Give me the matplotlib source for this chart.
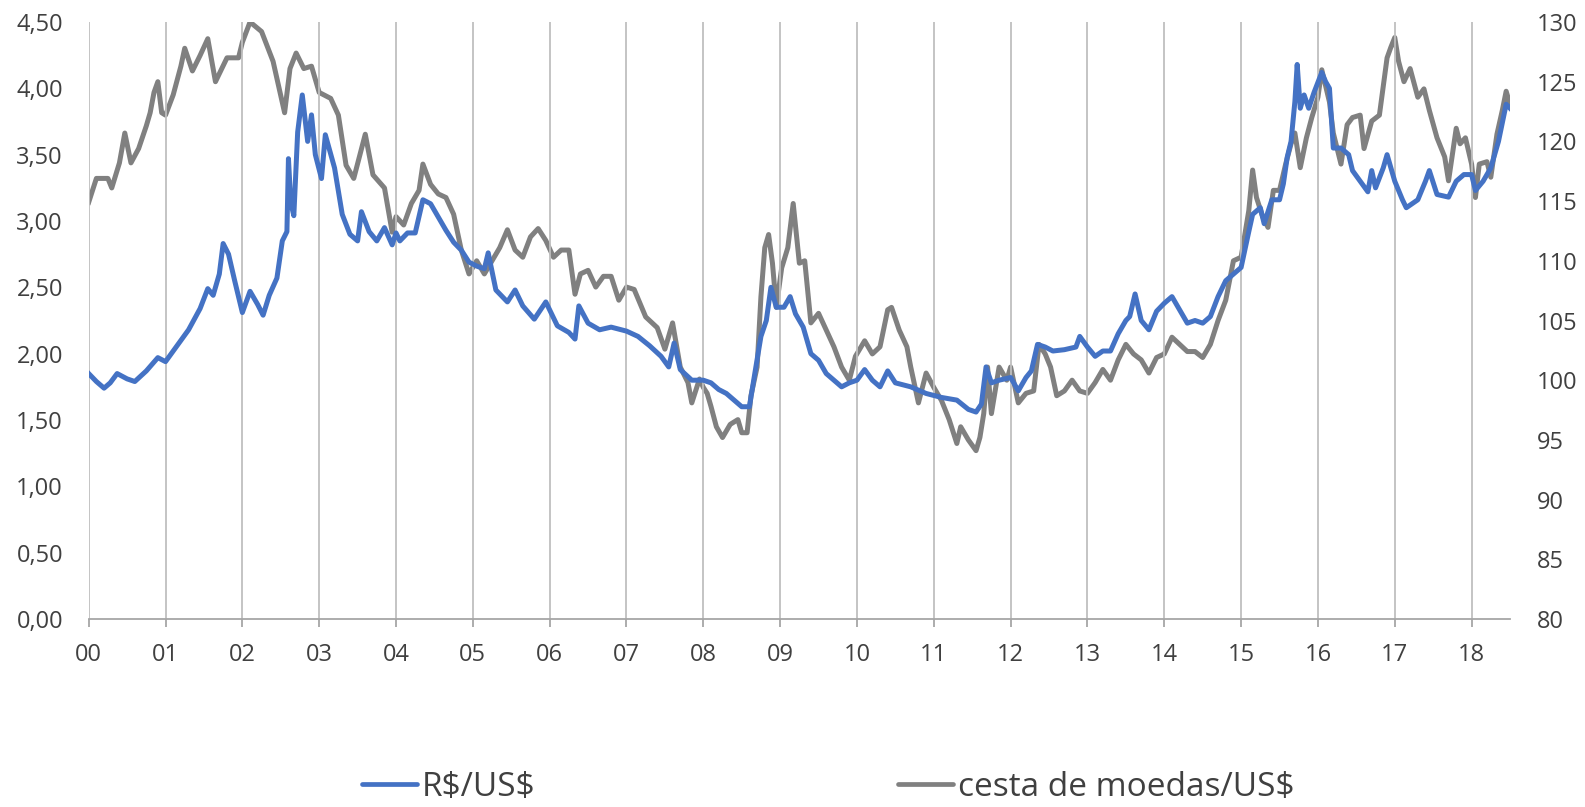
import matplotlib
matplotlib.use("Agg")
import matplotlib.pyplot as plt
from matplotlib.lines import Line2D

# ---- data (time in years since 2000) ----
brl_t = [0.0, 0.1, 0.2, 0.28, 0.37, 0.5, 0.6, 0.75, 0.9, 1.0, 1.15, 1.3, 1.45, 1.55, 1.62, 1.7, 1.75,
         1.82, 1.9, 2.0, 2.1, 2.2, 2.27, 2.35, 2.45, 2.52, 2.58, 2.6, 2.63, 2.67, 2.72, 2.78, 2.85,
         2.9, 2.95, 3.03, 3.08, 3.2, 3.3, 3.4, 3.5, 3.55, 3.65, 3.75, 3.85, 3.95, 4.0, 4.05, 4.15,
         4.25, 4.35, 4.45, 4.55, 4.65, 4.75, 4.85, 4.95, 5.05, 5.15, 5.2, 5.3, 5.45, 5.55, 5.65,
         5.8, 5.95, 6.1, 6.25, 6.33, 6.38, 6.5, 6.65, 6.8, 7.0, 7.15, 7.3, 7.45, 7.55, 7.62, 7.7,
         7.85, 8.0, 8.1, 8.2, 8.3, 8.4, 8.5, 8.6, 8.67, 8.75, 8.82, 8.88, 8.95, 9.05, 9.13, 9.2,
         9.3, 9.4, 9.5, 9.6, 9.7, 9.8, 9.9, 10.0, 10.1, 10.2, 10.3, 10.4, 10.5, 10.7, 10.9, 11.1,
         11.3, 11.45, 11.55, 11.62, 11.68, 11.75, 11.85, 12.0, 12.1, 12.2, 12.27, 12.35, 12.45,
         12.55, 12.7, 12.85, 12.9, 13.0, 13.1, 13.2, 13.3, 13.4, 13.5, 13.55, 13.62, 13.7, 13.8,
         13.9, 14.0, 14.1, 14.2, 14.3, 14.4, 14.5, 14.6, 14.7, 14.8, 14.9, 15.0, 15.1, 15.15,
         15.25, 15.3, 15.4, 15.5, 15.55, 15.6, 15.65, 15.7, 15.73, 15.77, 15.82, 15.88, 15.95,
         16.05, 16.1, 16.15, 16.2, 16.3, 16.4, 16.45, 16.55, 16.65, 16.7, 16.75, 16.85, 16.9,
         17.0, 17.1, 17.15, 17.3, 17.4, 17.45, 17.55, 17.7, 17.8, 17.9, 18.0, 18.05, 18.15,
         18.25, 18.35, 18.45, 18.5]
brl_v = [1.85, 1.79, 1.74, 1.78, 1.85, 1.81, 1.79, 1.87, 1.97, 1.94, 2.06, 2.18, 2.34, 2.49, 2.44,
         2.60, 2.83, 2.75, 2.55, 2.31, 2.47, 2.37, 2.29, 2.44, 2.57, 2.85, 2.92, 3.47, 3.14, 3.04,
         3.67, 3.95, 3.60, 3.80, 3.50, 3.32, 3.65, 3.40, 3.05, 2.90, 2.85, 3.07, 2.92, 2.85, 2.95,
         2.82, 2.91, 2.85, 2.91, 2.91, 3.16, 3.13, 3.03, 2.93, 2.84, 2.78, 2.69, 2.66, 2.64, 2.76,
         2.48, 2.39, 2.48, 2.36, 2.26, 2.39, 2.21, 2.16, 2.11, 2.36, 2.23, 2.18, 2.20, 2.17, 2.13,
         2.06, 1.98, 1.90, 2.08, 1.88, 1.80, 1.80, 1.78, 1.73, 1.70, 1.65, 1.60, 1.60, 1.85, 2.13,
         2.25, 2.50, 2.35, 2.35, 2.43, 2.30, 2.20, 2.00, 1.95, 1.85, 1.80, 1.75, 1.78, 1.80, 1.88,
         1.80, 1.75, 1.87, 1.78, 1.75, 1.70, 1.67, 1.65, 1.58, 1.56, 1.62, 1.90, 1.78, 1.80, 1.82,
         1.72, 1.82, 1.87, 2.07, 2.05, 2.02, 2.03, 2.05, 2.13, 2.05, 1.98, 2.02, 2.02, 2.15, 2.25,
         2.28, 2.45, 2.25, 2.18, 2.32, 2.38, 2.43, 2.33, 2.23, 2.25, 2.23, 2.28, 2.43, 2.55, 2.60,
         2.65, 2.92, 3.05, 3.10, 2.98, 3.16, 3.16, 3.28, 3.48, 3.60, 3.90, 4.18, 3.85, 3.95, 3.85,
         3.97, 4.12, 4.05, 4.00, 3.55, 3.55, 3.50, 3.38, 3.30, 3.22, 3.38, 3.25, 3.40, 3.50, 3.30,
         3.16, 3.10, 3.16, 3.30, 3.38, 3.20, 3.18, 3.30, 3.35, 3.35, 3.23, 3.30, 3.40, 3.60, 3.88,
         3.85]

basket_t = [0.0, 0.1, 0.25, 0.3, 0.4, 0.47, 0.55, 0.65, 0.75, 0.8, 0.85, 0.9, 0.95, 1.0, 1.1, 1.2,
            1.25, 1.35, 1.45, 1.55, 1.65, 1.8, 1.95, 2.0, 2.1, 2.25, 2.4, 2.55, 2.62, 2.7, 2.8,
            2.9, 3.0, 3.15, 3.25, 3.35, 3.45, 3.6, 3.7, 3.85, 3.95, 4.0, 4.1, 4.2, 4.3, 4.35, 4.45,
            4.55, 4.65, 4.75, 4.85, 4.95, 5.05, 5.15, 5.25, 5.35, 5.45, 5.55, 5.65, 5.75, 5.85,
            5.95, 6.05, 6.15, 6.25, 6.33, 6.4, 6.5, 6.6, 6.7, 6.8, 6.9, 7.0, 7.1, 7.25, 7.4, 7.5,
            7.6, 7.7, 7.8, 7.85, 7.95, 8.0, 8.05, 8.1, 8.17, 8.25, 8.35, 8.45, 8.5, 8.57, 8.62,
            8.7, 8.75, 8.8, 8.85, 8.9, 8.95, 9.02, 9.1, 9.17, 9.25, 9.32, 9.4, 9.5, 9.6, 9.7, 9.8,
            9.9, 9.98, 10.1, 10.2, 10.3, 10.4, 10.45, 10.55, 10.65, 10.7, 10.8, 10.9, 11.0, 11.1,
            11.2, 11.3, 11.35, 11.45, 11.55, 11.6, 11.65, 11.7, 11.75, 11.85, 11.95, 12.0, 12.1,
            12.2, 12.3, 12.37, 12.45, 12.52, 12.6, 12.7, 12.8, 12.9, 13.0, 13.1, 13.2, 13.3, 13.4,
            13.5, 13.6, 13.7, 13.8, 13.9, 14.0, 14.1, 14.2, 14.3, 14.4, 14.5, 14.6, 14.7, 14.8,
            14.9, 15.0, 15.1, 15.15, 15.2, 15.28, 15.35, 15.42, 15.5, 15.58, 15.65, 15.7, 15.77,
            15.85, 15.92, 16.0, 16.05, 16.15, 16.2, 16.3, 16.38, 16.45, 16.55, 16.6, 16.7, 16.8,
            16.9, 16.95, 17.0, 17.05, 17.12, 17.2, 17.3, 17.38, 17.45, 17.55, 17.65, 17.7, 17.8,
            17.85, 17.92, 18.0, 18.05, 18.1, 18.2, 18.25, 18.33, 18.4, 18.45, 18.5]
basket_v = [114.9, 116.9, 116.9, 116.1, 118.2, 120.7, 118.2, 119.4, 121.3, 122.4, 124.1, 125.0,
            122.4, 122.2, 123.9, 126.3, 127.8, 125.9, 127.2, 128.6, 125.0, 127.0, 127.0, 128.3,
            130.0, 129.2, 126.7, 122.4, 126.1, 127.4, 126.1, 126.3, 124.1, 123.6, 122.2, 118.0,
            116.9, 120.6, 117.2, 116.1, 112.4, 113.7, 113.0, 114.8, 115.9, 118.1, 116.4, 115.6,
            115.3, 113.9, 110.9, 108.9, 110.0, 108.9, 110.0, 111.1, 112.6, 110.9, 110.3, 112.0,
            112.7, 111.7, 110.3, 110.9, 110.9, 107.2, 108.9, 109.2, 107.8, 108.7, 108.7, 106.7,
            107.8, 107.6, 105.3, 104.4, 102.6, 104.8, 101.1, 99.8, 98.1, 100.1, 99.4, 98.9, 97.8,
            96.1, 95.2, 96.3, 96.7, 95.6, 95.6, 98.7, 101.1, 107.0, 111.1, 112.2, 109.8, 106.1,
            109.4, 111.1, 114.8, 109.8, 110.0, 104.8, 105.6, 104.2, 102.8, 101.1, 100.0, 102.0,
            103.3, 102.2, 102.8, 105.9, 106.1, 104.2, 102.8, 101.1, 98.1, 100.6, 99.4, 98.3, 96.7,
            94.7, 96.1, 95.0, 94.1, 95.2, 97.2, 101.1, 97.2, 101.1, 100.0, 101.1, 98.1, 98.9, 99.1,
            103.0, 102.2, 101.1, 98.7, 99.1, 100.0, 99.1, 98.9, 99.8, 100.9, 100.0, 101.7, 103.0,
            102.2, 101.7, 100.6, 101.9, 102.2, 103.6, 103.0, 102.4, 102.4, 101.9, 103.0, 105.0,
            106.7, 110.0, 110.3, 114.2, 117.6, 115.3, 113.7, 112.8, 115.9, 115.9, 118.1, 119.8,
            120.7, 117.8, 120.3, 122.0, 123.7, 126.0, 123.3, 120.7, 118.1, 121.4, 122.0, 122.2,
            119.4, 121.7, 122.2, 127.0, 127.9, 128.7, 126.7, 125.0, 126.1, 123.7, 124.4, 122.6,
            120.3, 118.7, 116.7, 121.1, 119.8, 120.3, 118.1, 115.3, 118.1, 118.3, 117.0, 120.6,
            122.6, 124.2, 123.1]

year_ticks = list(range(0, 19))
year_labels = ["%02d" % y for y in year_ticks]
left_ticks = [0, 0.5, 1.0, 1.5, 2.0, 2.5, 3.0, 3.5, 4.0, 4.5]
left_labels = ["0,00", "0,50", "1,00", "1,50", "2,00", "2,50", "3,00", "3,50", "4,00", "4,50"]
right_ticks = [80, 85, 90, 95, 100, 105, 110, 115, 120, 125, 130]

series_names = ["R$/US$", "cesta de moedas/US$"]

# ---- style ----
BLUE = "#4472C4"
GRAY = "#808080"
TXT = "#404040"
GRID = "#BFBFBF"
plt.rcParams["font.family"] = ["Open Sans", "DejaVu Sans"]


def plain(s):
    # escape dollar signs so they are drawn literally, not as mathtext
    return s.replace("$", r"\$")


fig = plt.figure(figsize=(15.85, 8.07), dpi=100)
ax = fig.add_axes([88.7 / 1585, 1 - 619 / 807, (1510 - 88.7) / 1585, (619 - 22) / 807])
ax2 = ax.twinx()

ax.set_xlim(0, 18.5)
ax.set_ylim(0, 4.5)
ax2.set_ylim(80, 130)

ax.set_xticks(year_ticks)
ax.set_xticklabels(year_labels)
ax.set_yticks(left_ticks)
ax.set_yticklabels(left_labels)
ax2.set_yticks(right_ticks)
ax2.set_yticklabels([str(v) for v in right_ticks])

ax.grid(axis="x", color=GRID, linewidth=1.3)
ax.set_axisbelow(True)

for a in (ax, ax2):
    for s in ("top", "left", "right"):
        a.spines[s].set_visible(False)
ax2.spines["bottom"].set_visible(False)
ax.spines["bottom"].set_color("#A6A6A6")
ax.spines["bottom"].set_linewidth(1.3)

ax.tick_params(axis="x", length=6, width=1.3, color="#A6A6A6", pad=11, labelsize=17, labelcolor=TXT)
ax.tick_params(axis="y", length=0, pad=18.5, labelsize=17, labelcolor=TXT)
ax2.tick_params(axis="y", length=0, pad=19.5, labelsize=17, labelcolor=TXT)

ax2.plot(basket_t, basket_v, color=GRAY, linewidth=3.6, solid_joinstyle="round", zorder=2)
ax.plot(brl_t, brl_v, color=BLUE, linewidth=3.6, solid_joinstyle="round", zorder=3)
ax2.set_zorder(0)
ax.set_zorder(1)
ax.patch.set_visible(False)

h1 = Line2D([], [], color=BLUE, linewidth=3.4, solid_capstyle="round")
h2 = Line2D([], [], color=GRAY, linewidth=3.4, solid_capstyle="round")
kw = dict(frameon=False, fontsize=24, handlelength=1.65, handletextpad=0.15,
          borderpad=0, borderaxespad=0, labelcolor=TXT, loc="center left")
fig.legend([h1], [plain(series_names[0])], bbox_to_anchor=(362 / 1585, 1 - 787 / 807), **kw)
fig.legend([h2], [plain(series_names[1])], bbox_to_anchor=(898 / 1585, 1 - 787 / 807), **kw)

fig.savefig("out.png", dpi=100)
